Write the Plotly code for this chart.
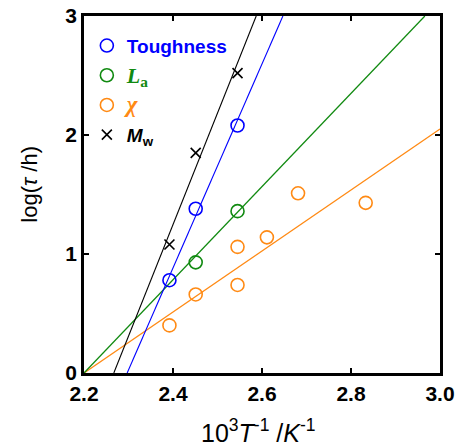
import plotly.graph_objects as go

# ---- data ----
inv_T = [2.392, 2.451, 2.545, 2.611, 2.681, 2.833]  # 10^3/T

tough_x = [2.392, 2.451, 2.545]
tough_y = [0.78, 1.38, 2.08]

la_x = [2.451, 2.545]
la_y = [0.93, 1.36]

chi_x = [2.392, 2.451, 2.545, 2.545, 2.611, 2.681, 2.833]
chi_y = [0.40, 0.66, 1.06, 0.74, 1.14, 1.51, 1.43]

mw_x = [2.392, 2.451, 2.545]
mw_y = [1.08, 1.85, 2.52]

# fitted lines (endpoints in data units)
tough_fit_x = [2.297, 2.647]
tough_fit_y = [0.0, 3.0]
la_fit_x = [2.2, 2.966]
la_fit_y = [0.0, 3.0]
chi_fit_x = [2.2, 3.0]
chi_fit_y = [0.0, 2.05]
mw_fit_x = [2.267, 2.587]
mw_fit_y = [0.0, 3.0]

x_ticks = [2.2, 2.4, 2.6, 2.8, 3.0]
x_ticklabels = ["2.2", "2.4", "2.6", "2.8", "3.0"]
y_ticks = [0, 1, 2, 3]
y_ticklabels = ["0", "1", "2", "3"]

BLUE = "#0000ff"
GREEN = "#118a11"
ORANGE = "#ff8a14"
BLACK = "#000000"
FONT = "Liberation Sans, Arial"

fig = go.Figure()

# fit lines
fig.add_trace(go.Scatter(x=chi_fit_x, y=chi_fit_y, mode="lines",
                         line=dict(color=ORANGE, width=1.3), showlegend=False, hoverinfo="skip"))
fig.add_trace(go.Scatter(x=la_fit_x, y=la_fit_y, mode="lines",
                         line=dict(color=GREEN, width=1.3), showlegend=False, hoverinfo="skip"))
fig.add_trace(go.Scatter(x=mw_fit_x, y=mw_fit_y, mode="lines",
                         line=dict(color=BLACK, width=1.1), showlegend=False, hoverinfo="skip"))
fig.add_trace(go.Scatter(x=tough_fit_x, y=tough_fit_y, mode="lines",
                         line=dict(color=BLUE, width=1.1), showlegend=False, hoverinfo="skip"))

circ = dict(symbol="circle-open", size=13, line=dict(width=1.6))

fig.add_trace(go.Scatter(x=tough_x, y=tough_y, mode="markers", legendgroup="a",
                         name="<b><span style='color:#0000ff'>Toughness</span></b>",
                         marker=dict(color=BLUE, **circ)))
fig.add_trace(go.Scatter(x=la_x, y=la_y, mode="markers", legendgroup="b",
                         name=("<b><span style='color:#118a11;font-family:Liberation Serif;font-size:22px'>"
                               "<i>L</i><sub>a</sub></span></b>"),
                         marker=dict(color=GREEN, **circ)))
fig.add_trace(go.Scatter(x=chi_x, y=chi_y, mode="markers", legendgroup="c",
                         name=("<b><span style='color:#ff8a14;font-family:Liberation Serif;font-size:23px'>"
                               "<i>χ</i></span></b>"),
                         marker=dict(color=ORANGE, **circ)))
fig.add_trace(go.Scatter(x=mw_x, y=mw_y, mode="markers", legendgroup="d",
                         name="<b><i>M</i><sub>w</sub></b>",
                         marker=dict(color=BLACK, symbol="x-thin-open", size=10,
                                     line=dict(width=1.6, color=BLACK))))

axis_common = dict(
    showline=True, linecolor="black", linewidth=2.5, mirror="ticks",
    ticks="inside", ticklen=5, tickwidth=2, tickcolor="black",
    showgrid=False, zeroline=False, automargin=False,
    tickfont=dict(family=FONT, size=21, color="black", weight="bold"),
)

fig.update_xaxes(range=[2.2, 3.0], tickvals=x_ticks, ticktext=x_ticklabels, **axis_common)
fig.update_yaxes(range=[0, 3], tickvals=y_ticks, ticktext=y_ticklabels, **axis_common)

fig.add_annotation(text="10<sup>3</sup><i>T</i><sup>-1</sup> /<i>K</i><sup>-1</sup>",
                   xref="paper", yref="paper", x=0.49, y=-0.163,
                   xanchor="center", yanchor="middle", showarrow=False,
                   font=dict(family=FONT, size=25, color="black"))
fig.add_annotation(text="log(<i>τ</i> /h)", textangle=-90,
                   xref="paper", yref="paper", x=-0.152, y=0.53,
                   xanchor="center", yanchor="middle", showarrow=False,
                   font=dict(family=FONT, size=22, color="black"))

fig.update_layout(
    width=459, height=446,
    margin=dict(l=84, r=19, t=16, b=73),
    plot_bgcolor="white", paper_bgcolor="white",
    font=dict(family=FONT, color="black"),
    legend=dict(x=0.008, y=0.97, xanchor="left", yanchor="top",
                bgcolor="rgba(0,0,0,0)", borderwidth=0,
                font=dict(family=FONT, size=19, color="black"),
                itemwidth=30, tracegroupgap=2),
)

fig.write_html("out.html", config={"displayModeBar": False},
               post_script="document.body.style.margin='0';")
